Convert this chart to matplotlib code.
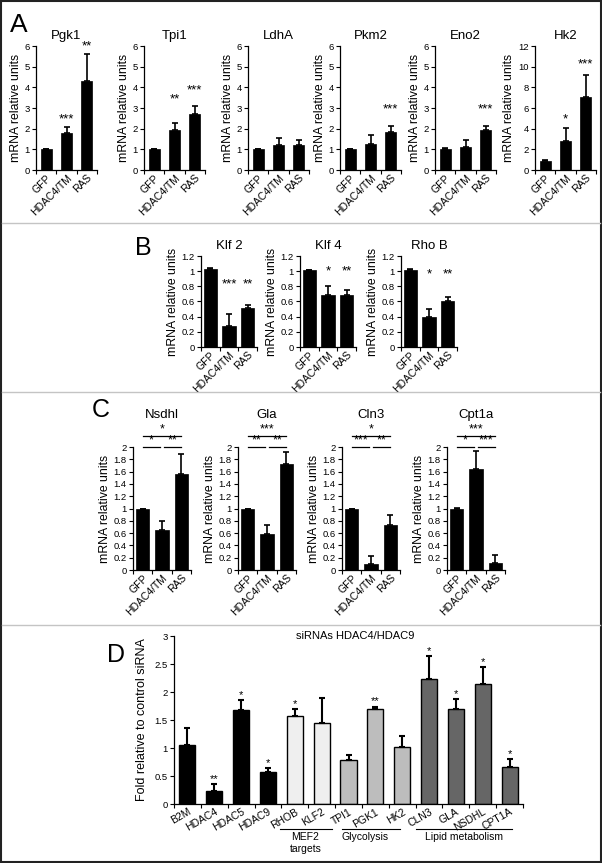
import numpy as np
import matplotlib
matplotlib.use('Agg')
import matplotlib.pyplot as plt
from matplotlib.lines import Line2D
from matplotlib.patches import Rectangle

plt.rcParams['font.family'] = ['Liberation Sans', 'DejaVu Sans']

## Data ##

groups = ['GFP', 'HDAC4/TM', 'RAS']

# Panel A: glycolytic genes
a_genes = ['Pgk1', 'Tpi1', 'LdhA', 'Pkm2', 'Eno2', 'Hk2']
a_means = [[1.0, 1.78, 4.32],
           [1.0, 1.92, 2.70],
           [1.0, 1.19, 1.19],
           [1.0, 1.24, 1.83],
           [1.02, 1.11, 1.94],
           [0.87, 2.80, 7.10]]
a_errs = [[0.01, 0.30, 1.31],
          [0.01, 0.35, 0.38],
          [0.01, 0.34, 0.24],
          [0.01, 0.44, 0.29],
          [0.03, 0.33, 0.21],
          [0.08, 1.28, 2.06]]
a_stars = [['', '***', '**'],
           ['', '**', '***'],
           ['', '', ''],
           ['', '', '***'],
           ['', '', '***'],
           ['', '*', '***']]
a_star_y = [[0, 2.45, 6.0],
            [0, 3.4, 3.85],
            [0, 0, 0],
            [0, 0, 2.95],
            [0, 0, 2.95],
            [0, 4.9, 10.2]]
a_ymax = [6, 6, 6, 6, 6, 12]

# Panel B: MEF2 targets
b_genes = ['Klf 2', 'Klf 4', 'Rho B']
b_means = [[1.035, 0.28, 0.51],
           [1.01, 0.68, 0.68],
           [1.02, 0.40, 0.61]]
b_errs = [[0.01, 0.15, 0.05],
          [0.01, 0.12, 0.07],
          [0.01, 0.10, 0.05]]
b_stars = [['', '***', '**'],
           ['', '*', '**'],
           ['', '*', '**']]
b_star_y = [0.83, 0.99, 0.96]

# Panel C: lipid metabolism genes
c_genes = ['Nsdhl', 'Gla', 'Cln3', 'Cpt1a']
c_means = [[0.99, 0.65, 1.56],
           [0.99, 0.59, 1.72],
           [1.0, 0.10, 0.73],
           [0.99, 1.64, 0.12]]
c_errs = [[0.01, 0.14, 0.33],
          [0.01, 0.14, 0.20],
          [0.0, 0.13, 0.17],
          [0.02, 0.30, 0.13]]
# brackets: GFP-RAS, GFP-HDAC4/TM, HDAC4/TM-RAS
c_brackets = [['*', '*', '**'],
              ['***', '**', '**'],
              ['*', '***', '**'],
              ['***', '*', '***']]

# Panel D: siRNA HDAC4/HDAC9
d_genes = ['B2M', 'HDAC4', 'HDAC5', 'HDAC9', 'RHOB', 'KLF2', 'TPI1', 'PGK1',
           'HK2', 'CLN3', 'GLA', 'NSDHL', 'CPT1A']
d_means = [1.05, 0.24, 1.68, 0.57, 1.57, 1.45, 0.78, 1.69, 1.02, 2.24, 1.70, 2.15, 0.66]
d_errs = [0.30, 0.11, 0.17, 0.08, 0.12, 0.45, 0.09, 0.05, 0.19, 0.40, 0.17, 0.29, 0.15]
d_stars = ['', '**', '*', '*', '*', '', '', '**', '', '*', '*', '*', '*']
d_colors = ['black'] * 4 + ['#efefef'] * 2 + ['#bdbdbd'] * 3 + ['#666666'] * 4
d_groups = [('MEF2\ntargets', 3.45, 5.4, 4.4),
            ('Glycolysis', 5.75, 7.9, 6.6),
            ('Lipid metabolism', 8.5, 12.1, 10.3)]

## Figure ##

W, H = 602, 863
fig = plt.figure(figsize=(W / 100, H / 100), dpi=100)


def px_axes(left, top, right, bottom):
    return fig.add_axes([left / W, 1 - bottom / H, (right - left) / W, (bottom - top) / H])


def style_axes(ax, n, ymax, ystep):
    for s in ['top', 'right']:
        ax.spines[s].set_visible(False)
    for s in ['left', 'bottom']:
        ax.spines[s].set_linewidth(0.9)
    ax.set_xlim(-0.5, n - 0.5)
    ax.set_ylim(0, ymax)
    yt = np.round(np.arange(0, ymax + ystep / 2, ystep), 3)
    ax.set_yticks(yt)
    ax.set_yticklabels(['%g' % v for v in yt], fontsize=6.8)
    ax.tick_params(axis='y', direction='out', length=3, width=0.8, pad=1.5)
    ax.set_xticks(np.arange(-0.5, n, 1.0), minor=True)
    ax.tick_params(axis='x', which='minor', direction='out', length=3, width=0.8)
    ax.tick_params(axis='x', which='major', length=0, pad=2)


def small_panel(ax, means, errs, ymax, ystep, width):
    x = np.arange(len(means))
    ax.bar(x, means, width=width, color='black', edgecolor='black', linewidth=0.5)
    ax.errorbar(x, means, yerr=[np.zeros(len(errs)), errs], fmt='none',
                ecolor='black', elinewidth=1.2, capsize=2, capthick=1.2)
    style_axes(ax, len(means), ymax, ystep)
    ax.set_xticks(x)
    ax.set_xticklabels(groups, rotation=45, ha='right', rotation_mode='anchor', fontsize=7.5)
    ax.set_ylabel('mRNA relative units', fontsize=8.8, labelpad=2)


# Panel A
a_lefts = [36, 144, 248, 340, 435, 535]
for i, gene in enumerate(a_genes):
    ax = px_axes(a_lefts[i], 46, a_lefts[i] + 61, 170)
    small_panel(ax, a_means[i], a_errs[i], a_ymax[i], a_ymax[i] / 6, 0.55)
    ax.set_title(gene, fontsize=9.5, pad=5)
    for j, st in enumerate(a_stars[i]):
        if st:
            ax.text(j, a_star_y[i][j], st, ha='center', va='center', fontsize=9.5)

# Panel B
b_lefts = [201, 300, 401]
for i, gene in enumerate(b_genes):
    ax = px_axes(b_lefts[i], 256, b_lefts[i] + 56, 347)
    small_panel(ax, b_means[i], b_errs[i], 1.2, 0.2, 0.7)
    ax.set_title(gene, fontsize=9.5, pad=5)
    for j, st in enumerate(b_stars[i]):
        if st:
            ax.text(j, b_star_y[i], st, ha='center', va='center', fontsize=9.5)

# Panel C
c_lefts = [133, 238, 342, 447]
for i, gene in enumerate(c_genes):
    ax = px_axes(c_lefts[i], 447, c_lefts[i] + 58, 570)
    small_panel(ax, c_means[i], c_errs[i], 2, 0.2, 0.68)
    ax.set_title(gene, fontsize=9.5, pad=21)
    spans = [(0, 2, 2.18), (0, 0.92, 2.0), (1.08, 2, 2.0)]
    for (x0, x1, yl), st in zip(spans, c_brackets[i]):
        ax.plot([x0, x1], [yl, yl], color='black', lw=0.9, clip_on=False)
        ax.text((x0 + x1) / 2, yl + 0.01, st, ha='center', va='bottom', fontsize=9)

# Panel D
ax = px_axes(174, 636, 523, 804)
xd = np.arange(len(d_genes))
ax.bar(xd, d_means, width=0.6, color=d_colors, edgecolor='black', linewidth=1.0)
ax.errorbar(xd, d_means, yerr=[np.zeros(len(d_errs)), d_errs], fmt='none',
            ecolor='black', elinewidth=1.5, capsize=2, capthick=1.5)
style_axes(ax, len(d_genes), 3, 0.5)
ax.set_xticks(xd)
ax.set_xticklabels(d_genes, rotation=30, ha='right', rotation_mode='anchor', fontsize=7.5)
ax.set_ylabel('Fold relative to control siRNA', fontsize=9, labelpad=5)
for j, st in enumerate(d_stars):
    if st:
        ax.annotate(st, (j, d_means[j] + d_errs[j]), xytext=(0, 0), textcoords='offset points',
                    ha='center', va='bottom', fontsize=8)
ax.text(0.52, 1.0, 'siRNAs HDAC4/HDAC9', transform=ax.transAxes, ha='center', va='center', fontsize=8)
tr = ax.get_xaxis_transform()
for label, x0, x1, xt in d_groups:
    ax.plot([x0, x1], [-0.149, -0.149], color='black', lw=0.8, transform=tr, clip_on=False)
    ax.text(xt, -0.165, label, transform=tr, ha='center', va='top', fontsize=7.5, linespacing=1.3)

# Panel letters
fig.text(10 / W, 1 - 32 / H, 'A', fontsize=19)
fig.text(135 / W, 1 - 255 / H, 'B', fontsize=18)
fig.text(92 / W, 1 - 417 / H, 'C', fontsize=18)
fig.text(107 / W, 1 - 662 / H, 'D', fontsize=18)

# separators and frame
for yy in [223, 392, 625]:
    fig.add_artist(Line2D([2 / W, 1 - 2 / W], [1 - yy / H, 1 - yy / H], transform=fig.transFigure,
                          color='#c4c4c4', lw=1.0))
fig.add_artist(Rectangle((0.7 / W, 0.7 / H), 1 - 1.6 / W, 1 - 1.4 / H, transform=fig.transFigure,
                         fill=False, edgecolor='#222222', lw=1.5))

fig.savefig('out.png', dpi=100)
